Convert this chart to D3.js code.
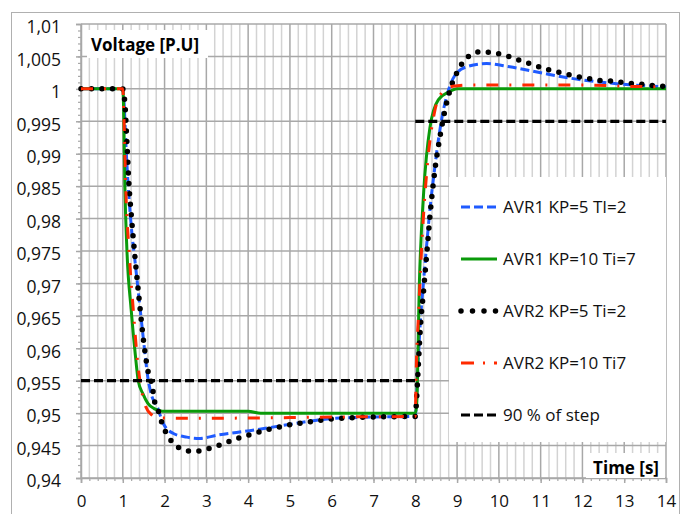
<!DOCTYPE html>
<html>
<head>
<meta charset="utf-8">
<script src="https://cdn.jsdelivr.net/npm/d3@7"></script>
<style>
body { margin: 0; background: #fff; }
text { font-family: "Open Sans", "Liberation Sans", sans-serif; }
</style>
</head>
<body>
<div id="chart"></div>
<script>
const width = 681;
const height = 514;

// time / value pairs
const tAvr1Kp5 = [0, 1.0, 1.03, 1.07, 1.12, 1.2, 1.3, 1.4, 1.5, 1.6, 1.7, 1.81, 1.97, 2.2, 2.53, 2.85, 3.25, 4.04, 4.83, 5.64, 6.08, 7, 8.0, 8.03, 8.07, 8.12, 8.2, 8.28, 8.36, 8.45, 8.55, 8.65, 8.78, 8.95, 9.23, 9.71, 10.26, 11.06, 11.86, 12.82, 14];
const vAvr1Kp5 = [1.0, 1.0, 0.998, 0.992, 0.986, 0.979, 0.973, 0.967, 0.961, 0.9555, 0.9525, 0.9512, 0.9484, 0.9469, 0.9463, 0.9461, 0.9466, 0.9473, 0.9481, 0.9489, 0.9492, 0.9494, 0.9495, 0.952, 0.958, 0.964, 0.9705, 0.9765, 0.982, 0.987, 0.992, 0.996, 0.9995, 1.0021, 1.0034, 1.0039, 1.0034, 1.0024, 1.0015, 1.0008, 1.0003];

const tAvr1Kp10 = [0, 1.0, 1.02, 1.05, 1.1, 1.2, 1.3, 1.37, 1.48, 1.6, 1.75, 1.95, 4.0, 4.3, 8.0, 8.03, 8.1, 8.2, 8.35, 8.55, 8.8, 9.0, 14];
const vAvr1Kp10 = [1.0, 1.0, 0.997, 0.985, 0.975, 0.966, 0.959, 0.955, 0.953, 0.9515, 0.9507, 0.9503, 0.9503, 0.95, 0.95, 0.951, 0.9705, 0.984, 0.994, 0.9983, 0.9995, 1.0, 1.0];

const tAvr2Kp5 = [0, 1.0, 1.03, 1.05, 1.1, 1.15, 1.2, 1.25, 1.3, 1.4, 1.5, 1.6, 1.7, 1.77, 1.87, 1.94, 2.06, 2.22, 2.44, 2.71, 2.97, 3.23, 3.49, 3.74, 4.0, 4.5, 5.0, 5.5, 6.0, 6.5, 7.0, 8.0, 8.03, 8.07, 8.12, 8.2, 8.28, 8.36, 8.47, 8.59, 8.71, 8.87, 8.99, 9.12, 9.29, 9.55, 9.81, 10.06, 10.33, 10.58, 10.84, 11.09, 11.35, 11.6, 11.87, 12.14, 12.4, 12.66, 12.93, 13.19, 13.45, 13.72, 14];
const vAvr2Kp5 = [1.0, 1.0, 0.999, 0.9978, 0.9916, 0.985, 0.9808, 0.977, 0.9735, 0.967, 0.961, 0.9566, 0.9543, 0.9515, 0.95, 0.9484, 0.9467, 0.9453, 0.9444, 0.9441, 0.9444, 0.9449, 0.9455, 0.9461, 0.9466, 0.9475, 0.9482, 0.9487, 0.9491, 0.9493, 0.9494, 0.9495, 0.952, 0.957, 0.963, 0.969, 0.975, 0.981, 0.9875, 0.9926, 0.9967, 1.0006, 1.0024, 1.0039, 1.0051, 1.0057, 1.0056, 1.0053, 1.0048, 1.0042, 1.0037, 1.0031, 1.0027, 1.0023, 1.0019, 1.0016, 1.0013, 1.0012, 1.001, 1.0008, 1.0007, 1.0005, 1.0004];

const tAvr2Kp10 = [0, 1.0, 1.03, 1.07, 1.15, 1.25, 1.37, 1.45, 1.55, 1.7, 1.85, 2.5, 4.8, 6.0, 8.0, 8.02, 8.08, 8.18, 8.3, 8.47, 8.64, 8.9, 9.4, 12.0, 13.0, 14];
const vAvr2Kp10 = [1.0, 1.0, 0.995, 0.985, 0.975, 0.966, 0.957, 0.9535, 0.951, 0.9497, 0.9493, 0.9492, 0.9493, 0.9494, 0.9495, 0.956, 0.9656, 0.9787, 0.989, 0.9967, 0.9994, 1.0004, 1.0006, 1.0006, 1.0004, 1.0003];

// 90 % band: two separate pieces, null marks the break
const tStep90 = [0, 8.0, 8.0, 8.0, 14];
const vStep90 = [0.955, 0.955, null, 0.995, 0.995];

const xTicks = d3.range(0, 15);
const yTicks = d3.range(0, 15).map(i => +(0.94 + i * 0.005).toFixed(3));

const seriesNames = ['AVR1 KP=5 TI=2', 'AVR1 KP=10 Ti=7', 'AVR2 KP=5 Ti=2', 'AVR2 KP=10 Ti7', '90 % of step'];

const zip = (t, v) => t.map((d, i) => [d, v[i]]);

const series = [
  { name: seriesNames[0], data: zip(tAvr1Kp5, vAvr1Kp5), color: '#1f5bff', width: 3, dash: '9,4', cap: 'butt', legendDash: '9,4' },
  { name: seriesNames[1], data: zip(tAvr1Kp10, vAvr1Kp10), color: '#0a9a0a', width: 3, dash: null, cap: 'butt', legendDash: null },
  { name: seriesNames[2], data: zip(tAvr2Kp5, vAvr2Kp5), color: '#000', width: 5.5, dash: '0,10.5', cap: 'round', legendDash: '0,11.5' },
  { name: seriesNames[3], data: zip(tAvr2Kp10, vAvr2Kp10), color: '#ff2a00', width: 3, dash: '12,11,2,11', cap: 'butt', legendDash: '13,9,2,9' },
  { name: seriesNames[4], data: zip(tStep90, vStep90), color: '#000', width: 3.2, dash: '9,4', cap: 'butt', legendDash: '9,4', linear: true }
];

const x = d3.scaleLinear().domain([0, 14]).range([81, 666]);
const y = d3.scaleLinear().domain([0.94, 1.01]).range([478, 24]);

const svg = d3.select('#chart').append('svg').attr('width', width).attr('height', height);

// outer chart frame
svg.append('rect')
  .attr('x', 11.5).attr('y', 12.5)
  .attr('width', 668).attr('height', 520)
  .attr('fill', 'none').attr('stroke', '#b0b0b0');

// grid
const grid = svg.append('g');
grid.selectAll('.vminor')
  .data(d3.range(0, 71).map(i => i * 0.2).filter((d, i) => i % 5 !== 0))
  .enter().append('line')
  .attr('x1', d => x(d)).attr('x2', d => x(d))
  .attr('y1', y(1.01)).attr('y2', y(0.94))
  .attr('stroke', '#d3d3d3').attr('stroke-width', 1.5);
grid.selectAll('.hmajor')
  .data(yTicks)
  .enter().append('line')
  .attr('x1', x(0)).attr('x2', x(14))
  .attr('y1', d => y(d)).attr('y2', d => y(d))
  .attr('stroke', '#a8a8a8').attr('stroke-width', 1.5);
grid.selectAll('.vmajor')
  .data(xTicks)
  .enter().append('line')
  .attr('x1', d => x(d)).attr('x2', d => x(d))
  .attr('y1', y(1.01)).attr('y2', y(0.94))
  .attr('stroke', '#a8a8a8').attr('stroke-width', 1.5);

// axes
const locale = d3.formatLocale({ decimal: ',', thousands: '.', grouping: [3], currency: ['', ''] });
const fmt = locale.format('~g');

const yMinor = d3.range(0, 71).map(i => +(0.94 + i * 0.001).toFixed(3));
svg.append('g')
  .attr('transform', `translate(${x(0)},0)`)
  .call(d3.axisLeft(y).tickValues(yMinor).tickSize(3).tickFormat(''))
  .call(g => g.select('.domain').remove())
  .call(g => g.selectAll('line').attr('stroke', '#a8a8a8').attr('stroke-width', 1.2));
svg.append('g')
  .attr('transform', `translate(${x(0)},0)`)
  .call(d3.axisLeft(y).tickValues(yTicks).tickSize(5).tickPadding(15).tickFormat(fmt))
  .call(g => g.select('.domain').attr('stroke', '#a8a8a8').attr('stroke-width', 1.5))
  .call(g => g.selectAll('line').attr('stroke', '#a8a8a8').attr('stroke-width', 1.5))
  .call(g => g.selectAll('text').attr('font-size', 17.5).attr('fill', '#111').attr('dy', '0.5em'));

const xMinor = d3.range(0, 71).map(i => i * 0.2);
svg.append('g')
  .attr('transform', `translate(0,${y(0.94)})`)
  .call(d3.axisBottom(x).tickValues(xMinor).tickSize(3).tickFormat(''))
  .call(g => g.select('.domain').remove())
  .call(g => g.selectAll('line').attr('stroke', '#a8a8a8').attr('stroke-width', 1.2));
svg.append('g')
  .attr('transform', `translate(0,${y(0.94)})`)
  .call(d3.axisBottom(x).tickValues(xTicks).tickSize(5).tickPadding(12).tickFormat(d3.format('d')))
  .call(g => g.select('.domain').attr('stroke', '#a8a8a8').attr('stroke-width', 1.5))
  .call(g => g.selectAll('line').attr('stroke', '#a8a8a8').attr('stroke-width', 1.5))
  .call(g => g.selectAll('text').attr('font-size', 17).attr('fill', '#111'));

// axis title boxes
svg.append('rect').attr('x', 87).attr('y', 30).attr('width', 121).attr('height', 28).attr('fill', '#fff');
svg.append('text').attr('x', 91).attr('y', 51)
  .attr('font-size', 17).attr('font-weight', 'bold').attr('fill', '#000')
  .text('Voltage [P.U]');
svg.append('rect').attr('x', 586).attr('y', 453).attr('width', 79).attr('height', 25).attr('fill', '#fff');
svg.append('text').attr('x', 659).attr('y', 474).attr('text-anchor', 'end')
  .attr('font-size', 17).attr('font-weight', 'bold').attr('fill', '#000')
  .text('Time [s]');

// series
const smooth = d3.line().x(d => x(d[0])).y(d => y(d[1])).curve(d3.curveMonotoneX);
const straight = d3.line().defined(d => d[1] != null).x(d => x(d[0])).y(d => y(d[1]));

svg.append('g').selectAll('path')
  .data(series)
  .enter().append('path')
  .attr('d', d => (d.linear ? straight : smooth)(d.data))
  .attr('fill', 'none')
  .attr('stroke', d => d.color)
  .attr('stroke-width', d => d.width)
  .attr('stroke-dasharray', d => d.dash)
  .attr('stroke-linecap', d => d.cap)
  .attr('stroke-linejoin', 'round');

// legend
const legend = svg.append('g');
legend.append('rect').attr('x', 449).attr('y', 177).attr('width', 217).attr('height', 265).attr('fill', '#fff');
const items = legend.selectAll('.item')
  .data(series)
  .enter().append('g')
  .attr('transform', (d, i) => `translate(0,${207 + i * 52})`);
items.append('line')
  .attr('x1', 461).attr('x2', 497).attr('y1', 0).attr('y2', 0)
  .attr('stroke', d => d.color)
  .attr('stroke-width', d => d.width)
  .attr('stroke-dasharray', d => d.legendDash)
  .attr('stroke-linecap', d => d.cap);
items.append('text')
  .attr('x', 503).attr('y', 6)
  .attr('font-size', 17).attr('fill', '#111')
  .text(d => d.name);
</script>
</body>
</html>
